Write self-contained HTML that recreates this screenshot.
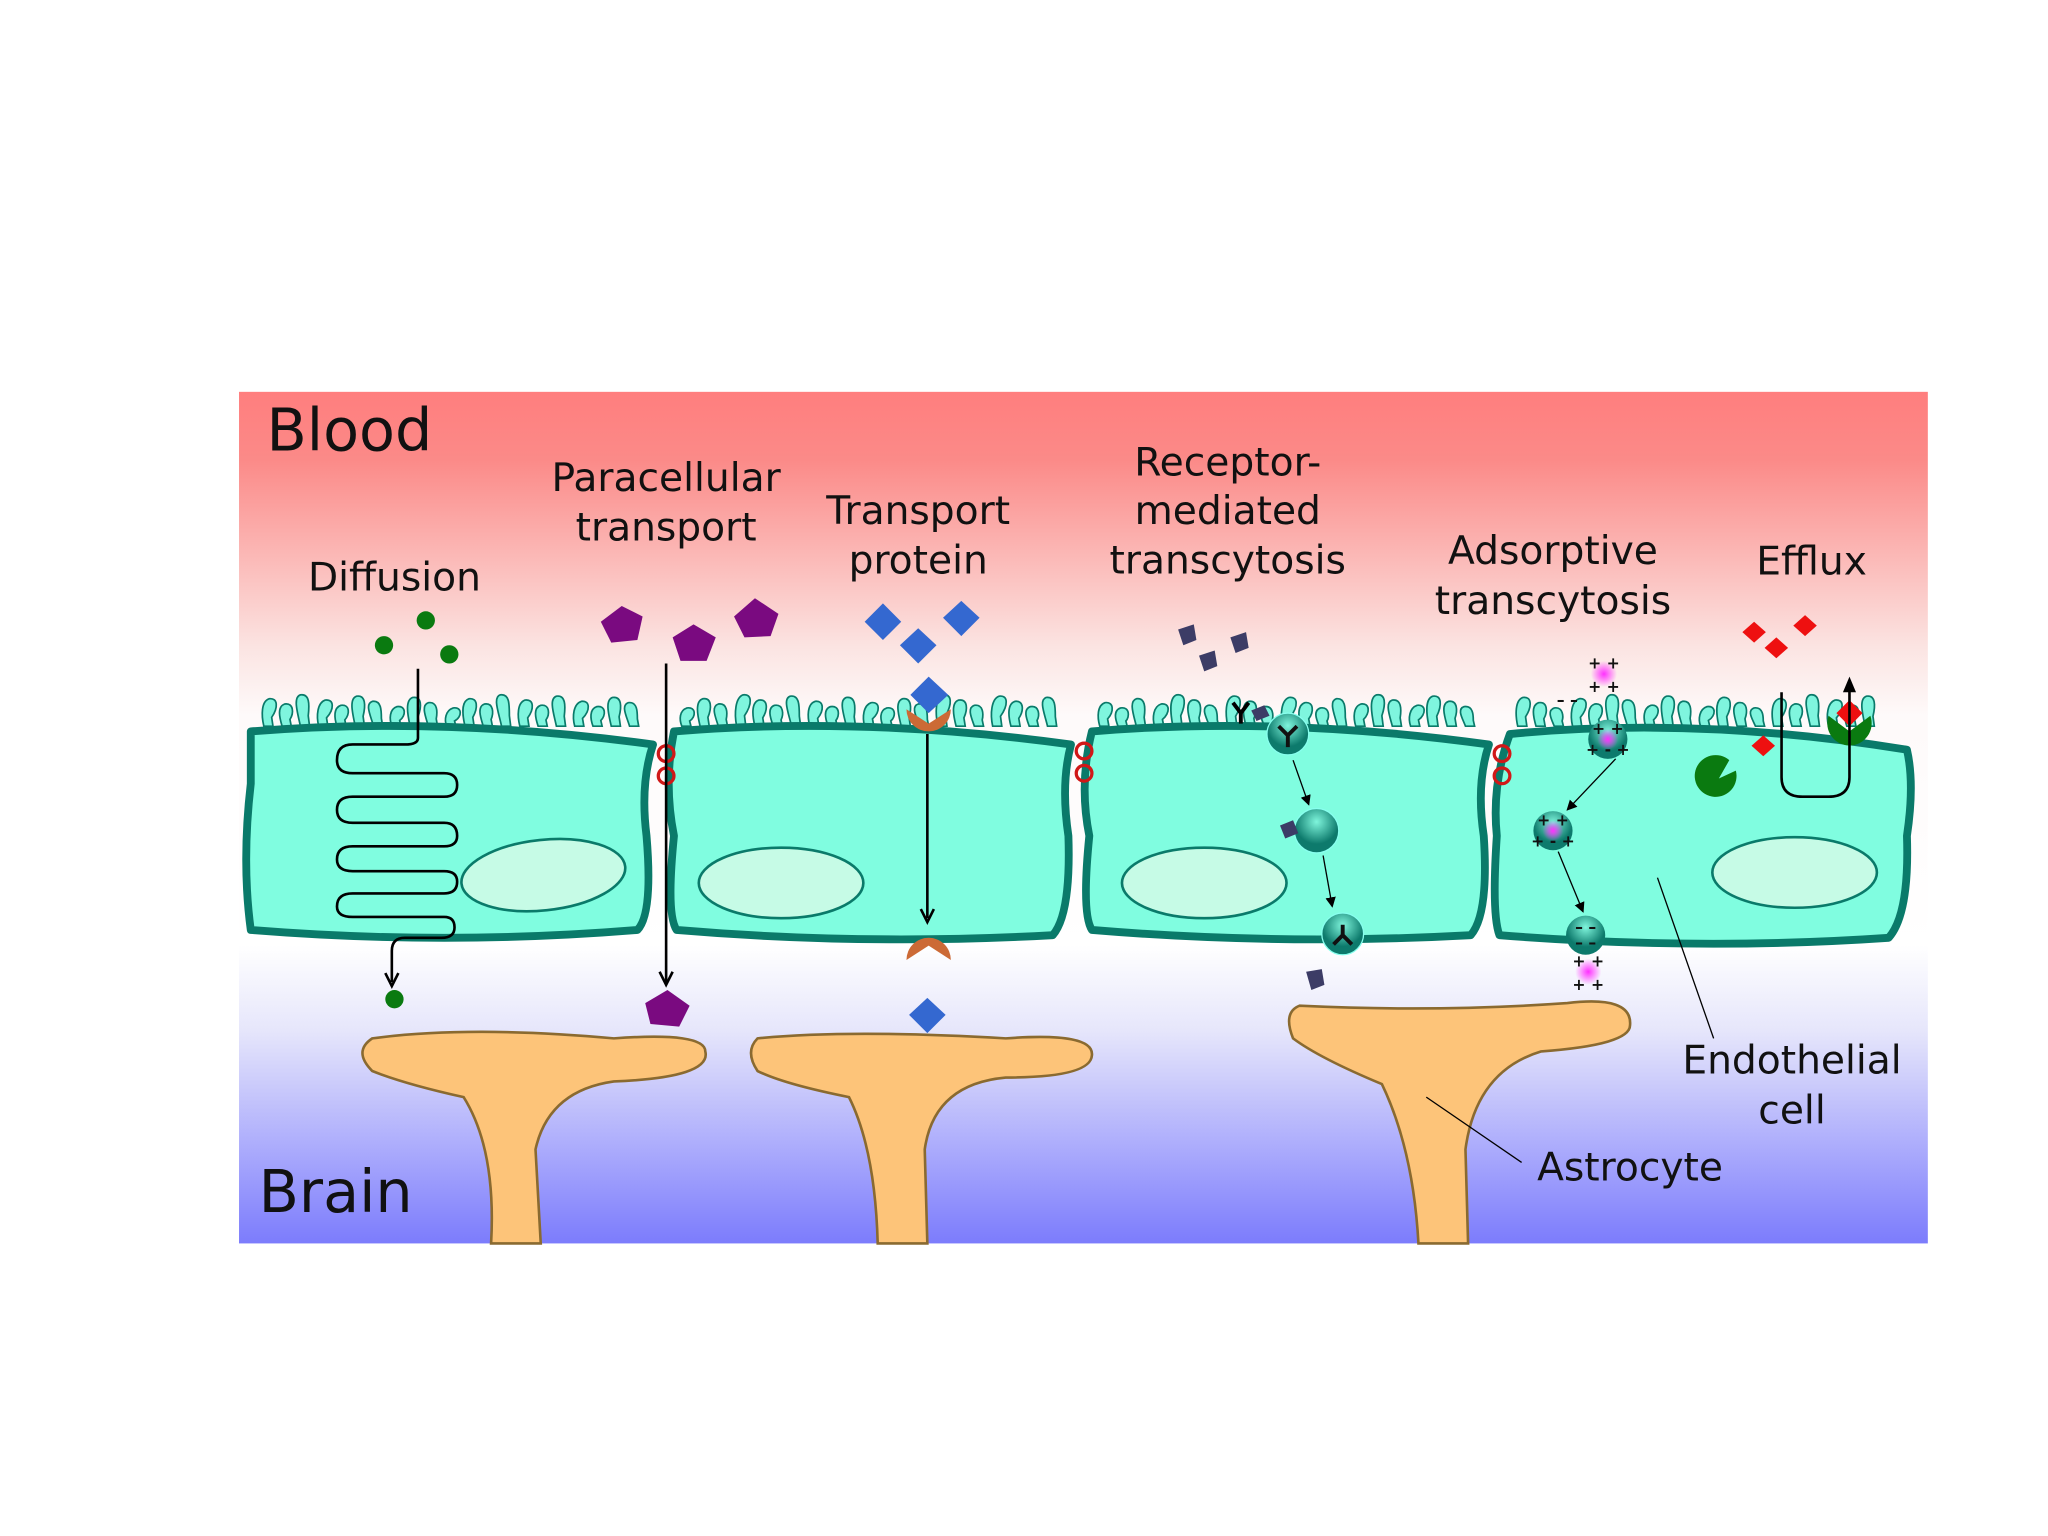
<!DOCTYPE html>
<html><head><meta charset="utf-8"><style>html,body{margin:0;padding:0;background:#fff}svg{display:block}text{font-family:"DejaVu Sans","Liberation Sans",sans-serif;fill:#111}</style></head>
<body>
<svg id="s" width="2048" height="1536" viewBox="0 0 1568 1176" xmlns="http://www.w3.org/2000/svg">
<defs>
<linearGradient id="bg" x1="0" y1="0" x2="0" y2="1">
<stop offset="0" stop-color="#ff7e7e"/><stop offset="0.08" stop-color="#fb8a88"/><stop offset="0.3" stop-color="#fbe4e2"/><stop offset="0.38" stop-color="#fefafa"/><stop offset="0.65" stop-color="#ffffff"/><stop offset="0.75" stop-color="#e6e6fb"/><stop offset="1" stop-color="#7c7cfc"/>
</linearGradient>
<radialGradient id="pk"><stop offset="0" stop-color="#ff30ff"/><stop offset="1" stop-color="#ff30ff" stop-opacity="0"/></radialGradient>
<radialGradient id="ves" cx="0.5" cy="0.3"><stop offset="0" stop-color="#7ff5dc"/><stop offset="1" stop-color="#0d7a6c"/></radialGradient>
<marker id="ah" markerWidth="8" markerHeight="8" refX="7" refY="4" orient="auto" markerUnits="userSpaceOnUse"><path d="M0,0 L8,4 L0,8 Z" fill="#000"/></marker>
</defs>
<rect x="183" y="300" width="1293" height="652" fill="url(#bg)"/>
<g id="villi" fill="#7ff5de" stroke="#0a7a6a" stroke-width="1.3"></g>
<g fill="#80fde0" stroke="#0a7a6a" stroke-width="6" stroke-linejoin="round">
<path d="M192,560 Q340,548 500,570 Q490,600 495,640 Q500,700 488,712 Q340,724 192,712 Q185,660 192,600 Z"/>
<path d="M516,560 Q660,548 820,570 Q812,600 818,640 Q820,700 806,716 Q660,724 518,712 Q510,700 516,640 Q508,600 516,560 Z"/>
<path d="M836,560 Q980,548 1140,570 Q1130,600 1136,640 Q1140,700 1126,716 Q980,724 836,712 Q828,700 834,640 Q826,600 836,560 Z"/>
<path d="M1156,562 Q1300,548 1460,574 Q1466,600 1460,640 Q1462,700 1446,718 Q1300,728 1148,716 Q1142,700 1146,640 Q1142,600 1156,562 Z"/>
</g>
<g fill="#c6fbe6" stroke="#0a7a6a" stroke-width="2">
<ellipse cx="416" cy="670" rx="63" ry="27" transform="rotate(-6 416 670)"/>
<ellipse cx="598" cy="676" rx="63" ry="27"/>
<ellipse cx="922" cy="676" rx="63" ry="27"/>
<ellipse cx="1374" cy="668" rx="63" ry="27"/>
</g>
<g fill="#fdc479" stroke="#8a6a30" stroke-width="2">
<path d="M285,795 Q360,785 470,795 Q540,790 540,805 Q545,825 470,828 Q420,835 410,880 L414,952 L376,952 Q380,880 355,840 Q310,830 285,820 Q270,805 285,795 Z"/>
<path d="M580,795 Q650,788 770,795 Q838,790 836,808 Q835,825 770,825 Q715,830 708,880 L710,952 L672,952 Q670,880 650,840 Q600,830 580,820 Q570,805 580,795 Z"/>
<path d="M995,770 Q1100,775 1200,768 Q1250,762 1248,785 Q1248,800 1180,805 Q1130,820 1122,880 L1124,952 L1086,952 Q1082,880 1058,830 Q1010,810 990,795 Q982,775 995,770 Z"/>
</g>
<g fill="none" stroke="#d01818" stroke-width="2.5">
<circle cx="510" cy="577" r="6"/><circle cx="510" cy="594" r="6"/>
<circle cx="830" cy="575" r="6"/><circle cx="830" cy="592" r="6"/>
<circle cx="1150" cy="577" r="6"/><circle cx="1150" cy="594" r="6"/>
</g>
<text x="204" y="345" font-size="45">Blood</text>
<text x="198" y="928" font-size="45">Brain</text>
<g font-size="30" text-anchor="middle">
<text x="510" y="376">Paracellular</text><text x="510" y="414">transport</text>
<text x="302" y="452">Diffusion</text>
<text x="703" y="401">Transport</text><text x="703" y="439">protein</text>
<text x="940" y="364">Receptor-</text><text x="940" y="401">mediated</text><text x="940" y="439">transcytosis</text>
<text x="1189" y="432">Adsorptive</text><text x="1189" y="470">transcytosis</text>
<text x="1387" y="440">Efflux</text>
<text x="1372" y="822">Endothelial</text><text x="1372" y="860">cell</text>
<text x="1248" y="904">Astrocyte</text>
</g>
<g fill="#0a7a10"><circle cx="294" cy="494" r="7"/><circle cx="326" cy="475" r="7"/><circle cx="344" cy="501" r="7"/><circle cx="302" cy="765" r="7"/></g>
<path d="M320,512 L320,565 Q320,570 310,570 L270,570 Q258,570 258,582 Q258,592 270,592 L340,592 Q350,592 350,601 Q350,610 340,610 L270,610 Q258,610 258,620 Q258,630 270,630 L340,630 Q350,630 350,640 Q350,648 340,648 L270,648 Q258,648 258,658 Q258,667 270,667 L340,667 Q350,667 350,675 Q350,684 340,684 L270,684 Q258,684 258,694 Q258,702 270,702 L340,702 Q348,702 348,710 Q348,718 338,718 L310,718 Q300,718 300,728 L300,752" fill="none" stroke="#000" stroke-width="2"/>
<path d="M295,745 L300,755 L305,745" fill="none" stroke="#000" stroke-width="2"/>
<g fill="#7a0a80">
<polygon points="476,464 492,472 488,490 468,492 460,476"/>
<polygon points="531,478 548,488 541,506 521,506 515,488"/>
<polygon points="578,458 596,470 590,487 570,488 562,472"/>
<polygon points="511,758 528,770 520,786 498,784 494,768"/>
</g>
<line x1="510" y1="508" x2="510" y2="752" stroke="#000" stroke-width="2"/><path d="M505,744 L510,754 L515,744" fill="none" stroke="#000" stroke-width="2"/>
<g fill="#3468d0">
<polygon points="676,462 690,476 676,490 662,476"/><polygon points="703,481 717,494 703,508 689,494"/><polygon points="736,460 750,473 736,487 722,473"/>
<polygon points="711,518 726,532 711,546 697,532"/><polygon points="710,764 724,777 710,791 696,777"/>
</g>
<g fill="#cc6a36"><path d="M694,543 L711,554 L728,543 A17,17 0 0 1 694,543 Z"/><path d="M694,735 L711,724 L728,735 A17,17 0 0 0 694,735 Z"/></g>
<line x1="710" y1="562" x2="710" y2="703" stroke="#000" stroke-width="2"/><path d="M705,696 L710,706 L715,696" fill="none" stroke="#000" stroke-width="2"/>
<g fill="#3c3c66"><polygon points="902,482 914,478 916,490 906,494"/><polygon points="942,488 954,484 956,496 946,500"/><polygon points="918,502 930,498 932,510 922,514"/><polygon points="1000,744 1012,742 1014,754 1004,758"/></g>
<path d="M944,538 L950,546 L956,538 M950,546 L950,554" stroke="#000" stroke-width="3" fill="none"/>
<polygon points="958,544 968,540 972,548 962,552" fill="#3c3c66"/>
<circle cx="986" cy="562" r="16" fill="url(#ves)" stroke="#8fe" stroke-width="1"/>
<path d="M979,556 L986,563 L993,556 M986,563 L986,572" stroke="#111" stroke-width="3" fill="none"/>
<circle cx="1008" cy="636" r="17" fill="url(#ves)" stroke="#8fe" stroke-width="1"/>
<polygon points="980,632 990,628 994,638 984,642" fill="#3c3c66"/>
<circle cx="1028" cy="715" r="16" fill="url(#ves)" stroke="#8fe" stroke-width="1"/>
<path d="M1028,708 L1028,716 L1021,723 M1028,716 L1035,723" stroke="#111" stroke-width="3" fill="none"/>
<g stroke="#000" stroke-width="1" fill="none"><line x1="990" y1="582" x2="1002" y2="616" marker-end="url(#ah)"/><line x1="1013" y1="655" x2="1020" y2="694" marker-end="url(#ah)"/><line x1="1237" y1="581" x2="1200" y2="620" marker-end="url(#ah)"/><line x1="1193" y1="652" x2="1212" y2="698" marker-end="url(#ah)"/><line x1="1269" y1="672" x2="1312" y2="795"/><line x1="1092" y1="840" x2="1165" y2="890"/></g>
<circle cx="1228" cy="516" r="10" fill="url(#pk)"/>
<circle cx="1231" cy="566" r="15" fill="url(#ves)"/><circle cx="1231" cy="566" r="8" fill="url(#pk)"/>
<circle cx="1189" cy="636" r="15" fill="url(#ves)"/><circle cx="1189" cy="636" r="8" fill="url(#pk)"/>
<circle cx="1214" cy="716" r="15" fill="url(#ves)"/>
<circle cx="1216" cy="744" r="10" fill="url(#pk)"/>
<g font-size="12" text-anchor="middle" font-weight="bold"><text x="1228" y="512">+ +</text><text x="1228" y="530">+ +</text><text x="1216" y="740">+ +</text><text x="1216" y="758">+ +</text><text x="1231" y="562">+ +</text><text x="1231" y="578">+ - +</text><text x="1189" y="632">+ +</text><text x="1189" y="648">+ - +</text><text x="1214" y="714">– –</text><text x="1214" y="726">– –</text><text x="1200" y="540">– –</text></g>
<g fill="#ee1010"><polygon points="1343,476 1352,484 1343,492 1334,484"/><polygon points="1382,471 1391,479 1382,487 1373,479"/><polygon points="1360,488 1369,496 1360,504 1351,496"/><polygon points="1350,563 1359,571 1350,579 1341,571"/></g>
<path d="M1400,548 A17,17 0 1 0 1432,548 L1416,560 Z" fill="#0a7a10"/>
<polygon points="1416,536 1426,546 1416,556 1406,546" fill="#ee1010"/>
<path d="M1329,590 A16,16 0 1 1 1324,582 L1316,596 Z" fill="#0a7a10"/>
<path d="M1364,530 L1364,595 Q1364,610 1380,610 L1400,610 Q1416,610 1416,595 L1416,522" fill="none" stroke="#000" stroke-width="2"/>
<path d="M1411,530 L1416,518 L1421,530 Z" fill="#000"/>
</svg>
<script>
(function(){var g=document.getElementById('villi'),segs=[[202,488],[522,808],[842,1132],[1162,1442]],s='',i=0;
segs.forEach(function(r){for(var x=r[0];x<r[1];x+=14){i++;var h=10+((i*7)%11);var y=556;var l=((i*5)%7)-3;
s+='<path d="M'+x+','+y+' C'+(x-2)+','+(y-h*0.5)+' '+(x+l-4)+','+(y-h-2)+' '+(x+l+2)+','+(y-h-4)+' C'+(x+l+9)+','+(y-h-5)+' '+(x+l+9)+','+(y-h+3)+' '+(x+6)+','+(y-h*0.4)+' L'+(x+7)+','+y+' Z"/>';}});g.innerHTML=s;})();
</script>
</body></html>
